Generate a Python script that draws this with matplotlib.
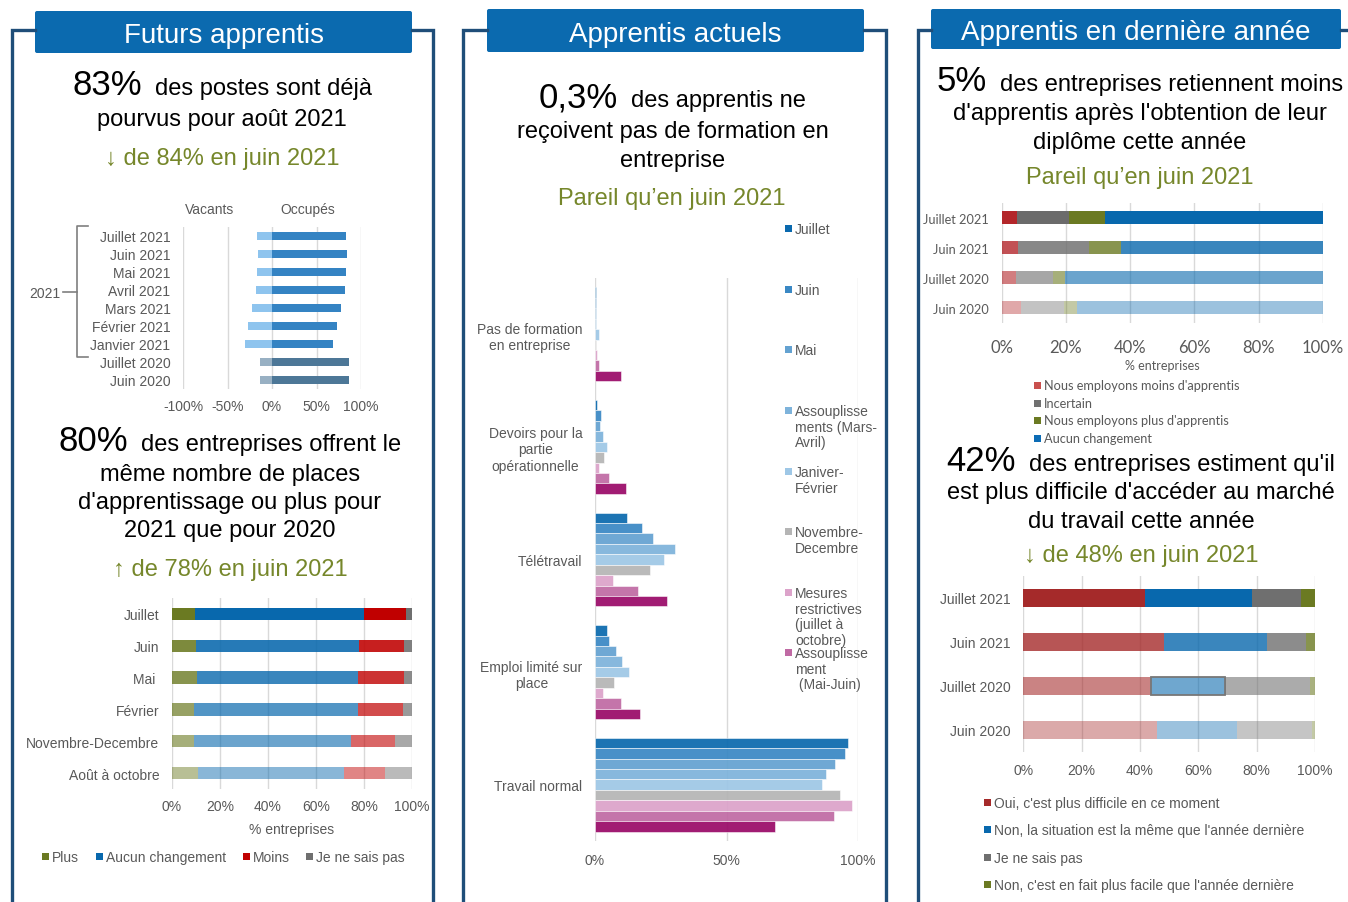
import numpy as np
import matplotlib
matplotlib.use("Agg")
import matplotlib.pyplot as plt
from matplotlib.colors import to_rgba
from matplotlib.patches import FancyBboxPatch, Rectangle

plt.rcParams['font.family'] = ['Liberation Sans', 'DejaVu Sans']

# --- Futurs apprentis : postes vacants / occupes
mois_postes = ['Juillet 2021', 'Juin 2021', 'Mai 2021', 'Avril 2021', 'Mars 2021',
               'Février 2021', 'Janvier 2021', 'Juillet 2020', 'Juin 2020']
occupes = [83, 84, 83, 82, 78, 73, 69, 87, 87]
vacants = [17, 16, 17, 18, 22, 27, 30, 13, 13]

# --- Futurs apprentis : places offertes
periodes = ['Juillet', 'Juin', 'Mai ', 'Février', 'Novembre-Decembre', 'Août à octobre']
places_labels = ['Plus', 'Aucun changement', 'Moins', 'Je ne sais pas']
places_plus = [9.6, 10.1, 10.4, 9.1, 9.1, 10.8]
places_aucun = [70.6, 67.9, 67.3, 68.3, 65.7, 60.9]
places_moins = [17.2, 18.7, 18.8, 18.7, 18.0, 17.2]
places_nsp = [2.6, 3.3, 3.5, 3.9, 7.2, 11.1]

# --- Apprentis actuels : situation de travail
situations = ['Pas de formation\nen entreprise', 'Devoirs pour la\npartie\nopérationnelle',
              'Télétravail', 'Emploi limité sur\nplace', 'Travail normal']
vagues = ['Juillet', 'Juin', 'Mai', 'Assouplisse\nments (Mars-\nAvril)', 'Janiver-\nFévrier',
          'Novembre-\nDecembre', 'Mesures\nrestrictives\n(juillet à\noctobre)',
          'Assouplisse\nment\n (Mai-Juin)']
sit_juillet = [0.3, 0.9, 12.0, 4.7, 96.3]
sit_juin = [0.2, 2.2, 17.8, 5.3, 94.9]
sit_mai = [0.5, 1.9, 21.9, 7.8, 91.4]
sit_mars_avril = [0.3, 3.0, 30.4, 10.4, 88.0]
sit_jan_fev = [1.4, 4.7, 26.2, 12.8, 86.2]
sit_nov_dec = [0.3, 3.4, 21.1, 7.3, 93.0]
sit_juil_oct = [0.6, 1.6, 6.7, 3.0, 97.8]
sit_mai_juin = [1.6, 5.4, 16.2, 9.9, 90.9]
sit_printemps = [9.7, 11.8, 27.5, 17.1, 68.6]

# --- Apprentis en derniere annee : retention
vagues_annee = ['Juillet 2021', 'Juin 2021', 'Juillet 2020', 'Juin 2020']
ret_labels = ["Nous employons moins d'apprentis", 'Incertain',
              "Nous employons plus d'apprentis", 'Aucun changement']
ret_moins = [4.9, 5.1, 4.6, 6.0]
ret_incertain = [16.1, 22.2, 11.5, 13.3]
ret_plus = [11.0, 9.8, 3.7, 4.0]
ret_aucun = [68.0, 62.9, 80.2, 76.7]

# --- Apprentis en derniere annee : acces au marche du travail
marche_labels = ["Oui, c'est plus difficile en ce moment",
                 "Non, la situation est la même que l'année dernière",
                 'Je ne sais pas',
                 "Non, c'est en fait plus facile que l'année dernière"]
marche_oui = [41.7, 48.3, 43.9, 45.9]
marche_meme = [36.7, 35.2, 25.1, 27.2]
marche_nsp = [16.8, 13.3, 29.4, 25.8]
marche_facile = [4.8, 3.2, 1.6, 1.1]

W, H = 1348, 903
NAVY = '#1f4e79'
HEAD = '#0b6aaf'
OLIVE = '#76872b'
GREY = '#595959'
GRID = '#d9d9d9'

fig = plt.figure(figsize=(W / 100, H / 100), dpi=100)


def ax_px(x0, y0, x1, y1):
    ax = fig.add_axes([x0 / W, 1 - y1 / H, (x1 - x0) / W, (y1 - y0) / H])
    ax.patch.set_visible(False)
    return ax


def style(ax, xticks, xpad, size=10, family=None):
    for s in ax.spines.values():
        s.set_visible(False)
    ax.set_xticks(xticks)
    ax.xaxis.set_major_formatter(lambda v, p: f'{v:.0f}%')
    ax.tick_params(length=0, colors=GREY, labelsize=size, pad=9)
    ax.tick_params(axis='x', pad=xpad)
    ax.grid(axis='x', color=GRID, lw=1)
    ax.set_axisbelow(True)
    if family:
        for t in ax.get_xticklabels() + ax.get_yticklabels():
            t.set_family(family)


def stacked(ax, labels, series, colors, alphas, height):
    y = np.arange(len(labels))
    left = np.zeros(len(labels))
    bars = []
    for vals, base in zip(series, colors):
        bars.append(ax.barh(y, vals, left=left, height=height,
                            color=[to_rgba(base, a) for a in alphas]))
        left += np.array(vals)
    ax.set_yticks(y, labels)
    ax.set_ylim(len(labels) - 0.5, -0.5)
    ax.set_xlim(0, 100)
    return bars


# background layer for frames, headings and legends
bg = fig.add_axes([0, 0, 1, 1])
bg.set_xlim(0, W)
bg.set_ylim(H, 0)
bg.axis('off')

panels = [(12, 433, 35, 412, 12, 54, 'Futurs apprentis'),
          (463, 886, 487, 864, 10, 53, 'Apprentis actuels'),
          (918, 1360, 931, 1341, 10, 50, 'Apprentis en dernière année')]
for lx, rx, hx0, hx1, hy0, hy1, title in panels:
    bg.plot([hx0, lx, lx], [31, 31, H + 10], color=NAVY, lw=2.4, solid_joinstyle='miter')
    bg.plot([hx1, rx, rx], [31, 31, H + 10], color=NAVY, lw=2.4, solid_joinstyle='miter')
    bg.add_patch(FancyBboxPatch((hx0, hy0), hx1 - hx0, hy1 - hy0,
                                boxstyle='round,pad=0,rounding_size=2', fc=HEAD, ec='none'))
    bg.text((hx0 + hx1) / 2, (hy0 + hy1) / 2 + 3, title, color='white', fontsize=20,
            ha='center', va='center')


def headline(xr, y, big, rest):
    bg.text(xr, y, big, fontsize=25, ha='right', va='baseline', color='black')
    bg.text(xr + 13, y, rest, fontsize=17, ha='left', va='baseline', color='black')


def line(x, y, s, color='black'):
    bg.text(x, y, s, fontsize=17, ha='center', va='center', color=color)


headline(142, 95, '83%', 'des postes sont déjà')
line(222, 120, 'pourvus pour août 2021')
line(222, 159, '↓ de 84% en juin 2021', OLIVE)

headline(128, 451, '80%', 'des entreprises offrent le')
line(230, 475, 'même nombre de places')
line(230, 503, "d'apprentissage ou plus pour")
line(230, 531, '2021 que pour 2020')
line(230, 570, '↑ de 78% en juin 2021', OLIVE)

headline(618, 107, '0,3%', 'des apprentis ne')
line(673, 132, 'reçoivent pas de formation en')
line(673, 161, 'entreprise')
line(672, 199, 'Pareil qu’en juin 2021', OLIVE)

headline(987, 91, '5%', 'des entreprises retiennent moins')
line(1140, 114, "d'apprentis après l'obtention de leur")
line(1140, 143, 'diplôme cette année')
line(1140, 178, 'Pareil qu’en juin 2021', OLIVE)

headline(1016, 471, '42%', "des entreprises estiment qu'il")
line(1141, 493, "est plus difficile d'accéder au marché")
line(1141, 522, 'du travail cette année')
line(1141, 556, '↓ de 48% en juin 2021', OLIVE)


def legend_item(x, y, color, label, size=10, family=None, multi=False):
    bg.add_patch(Rectangle((x, y - 3.5), 7, 7, color=color, lw=0))
    kw = dict(fontsize=size, color=GREY, ha='left')
    if family:
        kw['family'] = family
    if multi:
        bg.text(x + 10, y - 6, label, va='top', linespacing=1.15, **kw)
    else:
        bg.text(x + 10, y, label, va='center', **kw)


# ---------- chart 1 : vacants / occupes
ax1 = ax_px(183, 228, 361, 390)
y1 = np.arange(len(mois_postes))
occ_cols = ['#3483c3'] * 7 + ['#4d7797'] * 2
vac_cols = ['#8ec4ee'] * 7 + ['#98b0c3'] * 2
ax1.barh(y1, occupes, height=0.42, color=occ_cols)
ax1.barh(y1, -np.array(vacants), height=0.42, color=vac_cols)
ax1.set_yticks(y1, mois_postes)
ax1.set_ylim(len(mois_postes) - 0.5, -0.5)
ax1.set_xlim(-100, 100)
style(ax1, [-100, -50, 0, 50, 100], 7)
bg.text(210, 210, 'Vacants', fontsize=10, color=GREY, ha='center', va='center')
bg.text(308, 210, 'Occupés', fontsize=10, color=GREY, ha='center', va='center')
bg.plot([88, 77, 77, 88], [227, 227, 358, 358], color='#7f7f7f', lw=1.2)
bg.plot([63, 77], [293, 293], color='#7f7f7f', lw=1.2)
bg.text(60, 294, '2021', fontsize=10, color=GREY, ha='right', va='center')

# ---------- chart 2 : places offertes
ax2 = ax_px(171.7, 599, 412, 790)
cols2 = ['#6b7a22', '#0868ad', '#c00000', '#6f6f6f']
stacked(ax2, periodes, [places_plus, places_aucun, places_moins, places_nsp], cols2,
        [1, 0.88, 0.8, 0.7, 0.6, 0.48], 0.39)
style(ax2, range(0, 101, 20), 7)
ax2.set_xlabel('% entreprises', fontsize=10, color=GREY, labelpad=7)
for lab, col, x in zip(places_labels, cols2, [42, 96, 243, 306]):
    legend_item(x, 858, col, lab)

# ---------- chart 3 : situation des apprentis
ax3 = ax_px(595, 279, 858, 842)
cols3 = ['#0a69ae', '#3a88c4', '#64a2d1', '#7eb3db', '#9ec7e6', '#b5b5b5', '#dca3ca',
         '#c06aa4', '#9a0a68']
series3 = [sit_juillet, sit_juin, sit_mai, sit_mars_avril, sit_jan_fev, sit_nov_dec,
           sit_juil_oct, sit_mai_juin, sit_printemps]
h3 = 0.0924
g = np.arange(len(situations))
for i, (vals, col) in enumerate(zip(series3, cols3)):
    ax3.barh(g + (i - 4) * h3, vals, height=h3, color=col, alpha=0.93,
             edgecolor='white', lw=0.4)
ax3.set_yticks(g, situations)
for t in ax3.get_yticklabels():
    t.set_multialignment('center')
ax3.set_ylim(len(situations) - 0.5, -0.5)
ax3.set_xlim(0, 100)
style(ax3, [0, 50, 100], 9)
for lab, col, y in zip(vagues, cols3, [229, 290, 350, 411, 472, 532, 593, 653]):
    legend_item(785, y, col, lab, multi=True)

# ---------- chart 4 : retention apres diplome
ax4 = ax_px(1001.7, 203.5, 1323, 323.5)
cols4 = ['#b3262a', '#6b6b6b', '#6b7a22', '#0868ad']
stacked(ax4, vagues_annee, [ret_moins, ret_incertain, ret_plus, ret_aucun], cols4,
        [1, 0.8, 0.6, 0.4], 0.42)
style(ax4, range(0, 101, 20), 12, size=9.2, family='Lato')
for t in ax4.get_xticklabels():
    t.set_fontsize(12)
ax4.set_xlabel('% entreprises', fontsize=9, color=GREY, labelpad=3, family='Lato')
leg4_cols = ['#c9504e', '#707070', '#6b7a22', '#0c6cb5']
for lab, col, y in zip(ret_labels, leg4_cols, [386, 404, 421, 439]):
    legend_item(1034, y, col, lab, size=9.2, family='Lato')

# ---------- chart 5 : acces au marche du travail
ax5 = ax_px(1023.3, 577, 1315, 753)
cols5 = ['#a52a2a', '#0868ad', '#6f6f6f', '#6b7a22']
bars5 = stacked(ax5, vagues_annee, [marche_oui, marche_meme, marche_nsp, marche_facile],
                cols5, [1, 0.8, 0.58, 0.4], 0.39)
bars5[1][2].set_edgecolor('#777777')
bars5[1][2].set_linewidth(1.3)
style(ax5, range(0, 101, 20), 8)
for lab, col, y in zip(marche_labels, cols5, [804, 831, 859, 886]):
    legend_item(984, y, col, lab)

fig.savefig('out.png', dpi=100)
